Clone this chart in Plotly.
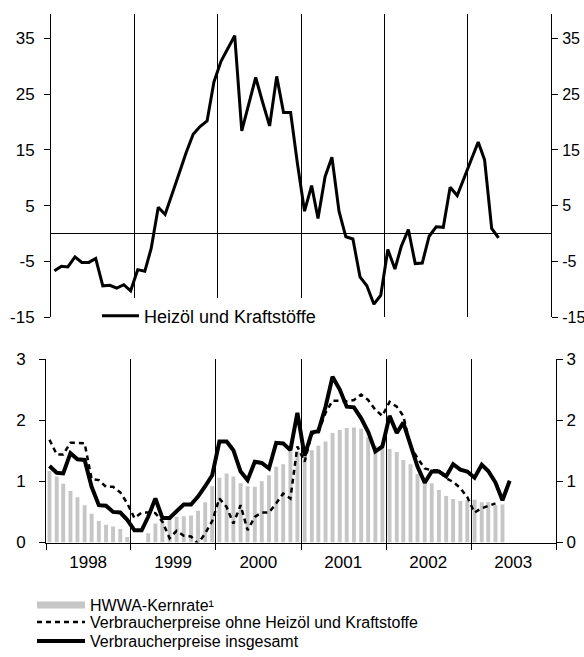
import pandas as pd
import plotly.graph_objects as go

# ---------------- data ----------------
# monthly values, starting January 1998
heizoel = [-6.7, -5.9, -6.0, -4.2, -5.2, -5.2, -4.5, -9.4, -9.3, -9.8, -9.2, -10.3,
           -6.5, -6.8, -2.7, 4.7, 3.4, 7.3, 10.7, 14.5, 17.8, 19.2, 20.2, 27.2,
           30.9, 33.3, 35.5, 18.4, 23.0, 28.0, 23.6, 19.3, 28.2, 21.7, 21.7, 12.5,
           4.0, 8.6, 2.7, 10.2, 13.7, 4.0, -0.6, -1.0, -7.8, -9.4, -12.7, -11.1,
           -2.9, -6.4, -2.3, 0.7, -5.4, -5.3, -0.5, 1.2, 1.1, 8.3, 6.8, 9.8,
           13.2, 16.4, 13.2, 0.9, -0.8]

kernrate = [1.17, 1.08, 0.96, 0.84, 0.74, 0.61, 0.47, 0.35, 0.29, 0.26, 0.22, 0.09,
            0.0, 0.0, 0.15, 0.31, 0.36, 0.39, 0.42, 0.43, 0.44, 0.52, 0.66, 0.92,
            1.06, 1.13, 1.08, 0.97, 0.92, 0.91, 1.00, 1.10, 1.24, 1.28, 1.49, 1.49,
            1.46, 1.51, 1.58, 1.65, 1.79, 1.84, 1.87, 1.88, 1.86, 1.72, 1.58, 1.54,
            1.53, 1.48, 1.35, 1.28, 1.12, 0.98, 0.97, 0.86, 0.76, 0.71, 0.68, 0.69,
            0.70, 0.66, 0.66, 0.61, 0.62]

ohne_energie = [1.68, 1.44, 1.44, 1.63, 1.63, 1.62, 1.04, 1.02, 0.91, 0.91, 0.82, 0.64,
                0.40, 0.49, 0.49, 0.48, 0.34, 0.07, 0.19, 0.11, 0.10, -0.02, 0.15, 0.35,
                0.72, 0.58, 0.31, 0.61, 0.20, 0.42, 0.49, 0.49, 0.64, 0.80, 0.72, 1.57,
                1.32, 1.78, 1.80, 2.12, 2.32, 2.32, 2.31, 2.33, 2.42, 2.33, 2.17, 2.07,
                2.30, 2.22, 2.07, 1.57, 1.38, 1.21, 1.18, 1.18, 1.05, 0.99, 0.89, 0.74,
                0.49, 0.56, 0.60, 0.64]

insgesamt = [1.25, 1.14, 1.13, 1.46, 1.36, 1.35, 0.91, 0.61, 0.60, 0.50, 0.49, 0.37,
             0.20, 0.20, 0.42, 0.72, 0.40, 0.40, 0.51, 0.62, 0.62, 0.75, 0.92, 1.10,
             1.65, 1.65, 1.51, 1.16, 1.02, 1.32, 1.30, 1.21, 1.63, 1.62, 1.51, 2.12,
             1.42, 1.80, 1.82, 2.22, 2.71, 2.50, 2.22, 2.21, 2.03, 1.81, 1.49, 1.57,
             2.07, 1.79, 1.96, 1.57, 1.24, 0.98, 1.16, 1.16, 1.08, 1.28, 1.19, 1.16,
             1.06, 1.27, 1.17, 0.98, 0.69, 1.01]

years = ["1998", "1999", "2000", "2001", "2002", "2003"]
top_ticks = [-15, -5, 5, 15, 25, 35]
top_ticktext = ["-15", "-5", "5", "15", "25", "35"]
bottom_ticks = [0, 1, 2, 3]

names = {
    "heizoel": "Heizöl und Kraftstöffe",
    "kern": "HWWA-Kernrate¹",
    "ohne": "Verbraucherpreise ohne Heizöl und Kraftstoffe",
    "ges": "Verbraucherpreise insgesamt",
}

# ---------------- helpers ----------------
def mid_months(n):
    starts = pd.date_range("1998-01-01", periods=n, freq="MS")
    return starts + pd.Timedelta(days=15)

year_starts = pd.date_range("1998-01-01", periods=7, freq="YS")
year_mids = [pd.Timestamp(f"{y}-07-01") for y in years]

FONT = "Liberation Sans, Arial, Helvetica, sans-serif"
W, H = 584, 657
GREY = "#c6c6c6"

def px_x(a, b):
    return [a / W, b / W]

def px_y(top, bottom):
    return [1 - bottom / H, 1 - top / H]

fig = go.Figure()

# ---- top chart ----
fig.add_trace(go.Scatter(
    x=mid_months(len(heizoel)), y=heizoel, mode="lines",
    line=dict(color="black", width=3), name=names["heizoel"],
    xaxis="x", yaxis="y", legend="legend"))
# anchor trace so the right-hand mirror axis is drawn
fig.add_trace(go.Scatter(x=[None], y=[None], xaxis="x", yaxis="y3",
                         showlegend=False, hoverinfo="skip"))

# ---- bottom chart ----
fig.add_trace(go.Bar(
    x=mid_months(len(kernrate)), y=kernrate,
    marker=dict(color=GREY, line=dict(width=0)),
    name=names["kern"], showlegend=False, xaxis="x2", yaxis="y2"))
fig.add_trace(go.Scatter(x=[None], y=[None], xaxis="x2", yaxis="y4",
                         showlegend=False, hoverinfo="skip"))
# legend key for the bars (a thick grey strip, as in the original key)
fig.add_trace(go.Scatter(
    x=[None], y=[None], mode="lines", line=dict(color=GREY, width=7),
    name=names["kern"], xaxis="x2", yaxis="y2", legend="legend2"))
fig.add_trace(go.Scatter(
    x=mid_months(len(ohne_energie)), y=ohne_energie, mode="lines",
    line=dict(color="black", width=2.5, dash="5px,4px"), name=names["ohne"],
    xaxis="x2", yaxis="y2", legend="legend3"))
fig.add_trace(go.Scatter(
    x=mid_months(len(insgesamt)), y=insgesamt, mode="lines",
    line=dict(color="black", width=4), name=names["ges"],
    xaxis="x2", yaxis="y2", legend="legend4"))

xr = ["1998-01-01", "2004-01-01"]
tickfont = dict(family=FONT, size=17, color="black")
tickfont_r = dict(family=FONT, size=16, color="black")

def ylegend(ycenter, size=16, bg="rgba(0,0,0,0)", x=32, iw=48):
    return dict(x=x / W, y=1 - ycenter / H, xanchor="left", yanchor="middle",
                bgcolor=bg, borderwidth=0, font=dict(family=FONT, size=size, color="black"),
                itemwidth=iw)

fig.update_layout(
    width=W, height=H, autosize=False,
    margin=dict(l=0, r=0, t=0, b=0, autoexpand=False),
    paper_bgcolor="white", plot_bgcolor="rgba(0,0,0,0)",
    font=dict(family=FONT, size=16, color="black"),
    bargap=0.4,
    xaxis=dict(domain=px_x(51, 551), anchor="y", type="date", range=xr,
               tickvals=list(year_starts[1:6]), showticklabels=False, ticks="",
               showgrid=True, gridcolor="black", gridwidth=1, showline=False,
               zeroline=False, automargin=False),
    yaxis=dict(domain=px_y(14, 317), anchor="x", range=[-15, 39.4],
               tickvals=top_ticks, ticktext=top_ticktext, ticks="outside",
               ticklen=6, tickcolor="black", showline=True, linecolor="black",
               linewidth=1, showgrid=False, zeroline=True, zerolinecolor="black",
               zerolinewidth=1, tickfont=tickfont, ticklabelstandoff=6,
               automargin=False),
    yaxis3=dict(overlaying="y", anchor="x", side="right", range=[-15, 39.4],
                tickvals=top_ticks, ticktext=top_ticktext, ticks="outside",
                ticklen=6, tickcolor="black", showline=True, linecolor="black",
                linewidth=1, showgrid=False, zeroline=False, tickfont=tickfont_r,
                ticklabelstandoff=1, automargin=False),
    xaxis2=dict(domain=px_x(46, 556), anchor="y2", type="date", range=xr,
                tickvals=year_mids, ticktext=years, ticks="",
                showgrid=False, showline=True, linecolor="black", linewidth=1,
                zeroline=False, tickfont=tickfont, ticklabelstandoff=4,
                automargin=False,
                minor=dict(tickvals=list(year_starts), ticks="outside", ticklen=6,
                           tickcolor="black", showgrid=True, gridcolor="black",
                           gridwidth=1)),
    yaxis2=dict(domain=px_y(359, 542.5), anchor="x2", range=[0, 3],
                tickvals=bottom_ticks, ticks="outside", ticklen=6,
                tickcolor="black", showline=True, linecolor="black", linewidth=1,
                showgrid=False, zeroline=False, tickfont=tickfont,
                ticklabelstandoff=10, automargin=False),
    yaxis4=dict(overlaying="y2", anchor="x2", side="right", range=[0, 3],
                tickvals=bottom_ticks, ticks="outside", ticklen=6,
                tickcolor="black", showline=True, linecolor="black", linewidth=1,
                showgrid=False, zeroline=False, tickfont=tickfont,
                ticklabelstandoff=0, automargin=False),
    legend=ylegend(316, size=18, bg="white", x=97, iw=37),
    legend2=ylegend(605),
    legend3=ylegend(622),
    legend4=ylegend(641),
)

# place the figure flush with the page's top-left corner
fig.write_html("out.html", config={"displayModeBar": False},
               post_script="document.body.style.margin='0';")
